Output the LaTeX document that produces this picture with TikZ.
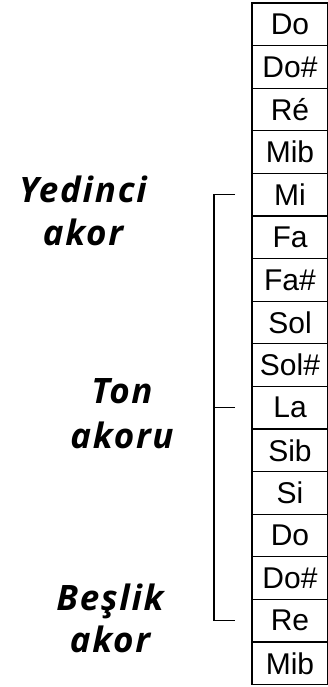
\documentclass[tikz,border=0pt]{standalone}
\usepackage{fontspec}
\setmainfont{Liberation Sans}
\newfontfamily\chordfamily{Open Sans}[LetterSpace=5]
\usetikzlibrary{positioning}

\begin{document}
\begin{tikzpicture}[
    x=1pt, y=-1pt,
    note/.style={rectangle, draw=black, line width=1.1pt, outer sep=0pt, minimum width=76pt, minimum height=42.6pt, inner sep=0pt, font=\fontsize{30}{30}\selectfont},
    chord/.style={anchor=base, font=\chordfamily\bfseries\itshape\fontsize{35}{35}\selectfont},
    bracket/.style={draw=black, line width=1.1pt},
    node distance=0pt
    ]
    \useasboundingbox (0,0) rectangle (327,687);

    % note column
    \node[note, anchor=north west] (n0) at (252,3) {Do};
    \foreach \lbl [count=\i from 1, remember=\i as \j (initially 0)] in
        {Do\#, Ré, Mib, Mi, Fa, Fa\#, Sol, Sol\#, La, Sib, Si, Do, Do\#, Re, Mib}
        \node[note, below=0pt of n\j] (n\i) {\lbl};

    % chord labels
    \node[chord] (yed) at (83,202) {Yedinci};
    \node[chord] (yedakor) at (83,245) {akor};
    \node[chord] (ton) at (122,403) {Ton};
    \node[chord] (tonakor) at (122,448) {akoru};
    \node[chord] (bes) at (110,610) {Beşlik};
    \node[chord] (besakor) at (110,652) {akor};

    % bracket
    \draw[bracket] ([xshift=-17pt]n4.west) -- ([xshift=-38pt]n4.west)
        -- ([xshift=-38pt]n14.west) -- ([xshift=-17pt]n14.west);
    \draw[bracket] ([xshift=-17pt]n9.west) -- ([xshift=-38pt]n9.west);
\end{tikzpicture}
\end{document}
